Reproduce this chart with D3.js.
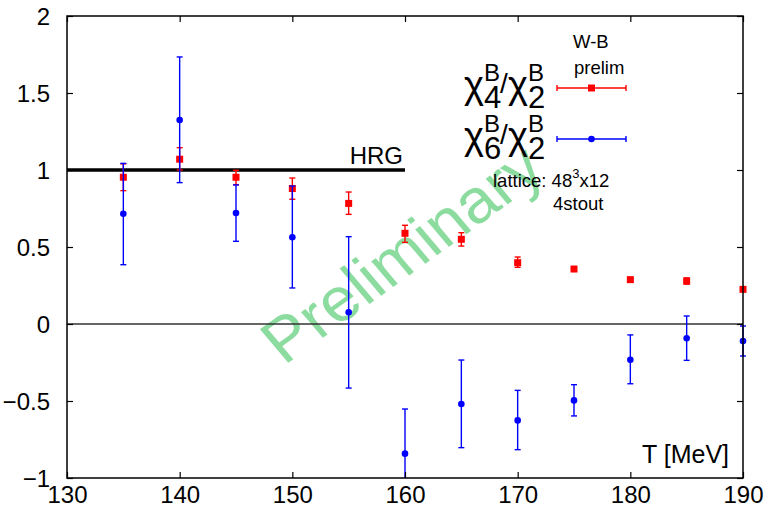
<!DOCTYPE html>
<html>
<head>
<meta charset="utf-8">
<script src="https://cdn.jsdelivr.net/npm/d3@7"></script>
<style>
body { margin: 0; background: #fff; }
svg { display: block; font-family: "Liberation Sans", Arial, sans-serif; }
</style>
</head>
<body>
<div id="plot"></div>
<script>
// temperatures [MeV]
let temps = [135, 140, 145, 150, 155, 160, 165, 170, 175, 180, 185, 190];

// chi4/chi2 (red squares)
let r42 = [0.953, 1.07, 0.953, 0.88, 0.783, 0.589, 0.55, 0.398, 0.357, 0.288, 0.279, 0.225];
let r42Hi = [1.04, 1.145, 0.998, 0.948, 0.857, 0.641, 0.593, 0.435, 0.369, 0.298, 0.299, 0.233];
let r42Lo = [0.866, 1.0, 0.905, 0.81, 0.712, 0.53, 0.506, 0.368, 0.345, 0.278, 0.259, 0.217];

// chi6/chi2 (blue circles)
let r62 = [0.716, 1.325, 0.721, 0.563, 0.076, -0.842, -0.519, -0.626, -0.496, -0.232, -0.093, -0.11];
let r62Hi = [1.043, 1.734, 0.903, 0.896, 0.567, -0.552, -0.234, -0.431, -0.394, -0.071, 0.052, -0.013];
let r62Lo = [0.385, 0.918, 0.537, 0.234, -0.416, -1.15, -0.803, -0.816, -0.597, -0.388, -0.236, -0.208];

let xTicks = [130, 140, 150, 160, 170, 180, 190];
let yTicks = [-1, -0.5, 0, 0.5, 1, 1.5, 2];
let hrg = 1, hrgEnd = 160;

let width = 769, height = 515;
let pLeft = 67, pRight = 743, pTop = 16, pBottom = 478;

let x = d3.scaleLinear().domain([130, 190]).range([pLeft, pRight]);
let y = d3.scaleLinear().domain([-1, 2]).range([pBottom, pTop]);

let svg = d3.select('#plot').append('svg').attr('width', width).attr('height', height);

// watermark
svg.append('text')
  .attr('transform', 'translate(284,366) scale(1.08,1) rotate(-38)')
  .style('font-size', '62px')
  .style('fill', 'rgb(140,220,160)')
  .text('Preliminary');

// zero line
svg.append('line')
  .attr('x1', x(130)).attr('x2', x(190))
  .attr('y1', y(0)).attr('y2', y(0))
  .style('stroke', '#333').style('stroke-width', 1.5);

// HRG line
svg.append('line')
  .attr('x1', x(130)).attr('x2', x(hrgEnd))
  .attr('y1', y(hrg)).attr('y2', y(hrg))
  .style('stroke', '#000').style('stroke-width', 3.5);

svg.append('text')
  .attr('x', x(hrgEnd) - 2).attr('y', y(hrg) - 6)
  .attr('text-anchor', 'end')
  .style('font-size', '24px')
  .text('HRG');

function clampY(v) { return y(Math.max(-1, Math.min(2, v))); }

function series(vals, hi, lo, color, shape) {
  let data = temps.map((t, i) => ({t: t, v: vals[i], hi: hi[i], lo: lo[i]}));
  let g = svg.append('g');
  let bars = g.selectAll('g.bar').data(data).enter().append('g')
    .style('stroke', color).style('stroke-width', 1.4).style('fill', 'none');
  bars.append('line')
    .attr('x1', d => x(d.t)).attr('x2', d => x(d.t))
    .attr('y1', d => clampY(d.hi)).attr('y2', d => clampY(d.lo));
  bars.append('line')
    .attr('x1', d => x(d.t) - 3).attr('x2', d => x(d.t) + 3)
    .attr('y1', d => y(d.hi)).attr('y2', d => y(d.hi));
  bars.filter(d => d.lo >= -1).append('line')
    .attr('x1', d => x(d.t) - 3).attr('x2', d => x(d.t) + 3)
    .attr('y1', d => y(d.lo)).attr('y2', d => y(d.lo));
  if (shape == 'square') {
    g.selectAll('rect').data(data).enter().append('rect')
      .attr('x', d => x(d.t) - 3.5).attr('y', d => y(d.v) - 3.5)
      .attr('width', 7).attr('height', 7)
      .style('fill', color);
  } else {
    g.selectAll('circle').data(data).enter().append('circle')
      .attr('cx', d => x(d.t)).attr('cy', d => y(d.v))
      .attr('r', 3.3)
      .style('fill', color);
  }
}

series(r42, r42Hi, r42Lo, '#ff0000', 'square');
series(r62, r62Hi, r62Lo, '#0000ff', 'circle');

// axes, ticks inward on all four sides
function styleAxis(g) {
  g.select('.domain').remove();
  g.selectAll('line').style('stroke', '#000').style('stroke-width', 1.2);
  g.selectAll('text').style('font-size', '24px').style('fill', '#000')
    .style('font-family', '"Liberation Sans", Arial, sans-serif');
}

svg.append('g').attr('transform', `translate(0,${pBottom})`)
  .call(d3.axisBottom(x).tickValues(xTicks).tickSizeInner(-6).tickSizeOuter(0).tickPadding(8).tickFormat(d3.format('d')))
  .call(styleAxis);
svg.append('g').attr('transform', `translate(0,${pTop})`)
  .call(d3.axisTop(x).tickValues(xTicks).tickSizeInner(-6).tickSizeOuter(0).tickFormat(''))
  .call(styleAxis);
svg.append('g').attr('transform', `translate(${pLeft},0)`)
  .call(d3.axisLeft(y).tickValues(yTicks).tickSizeInner(-6).tickSizeOuter(0).tickPadding(17).tickFormat(d => d3.format('')(d)))
  .call(styleAxis)
  .selectAll('text').attr('dy', '0.36em');
svg.append('g').attr('transform', `translate(${pRight},0)`)
  .call(d3.axisRight(y).tickValues(yTicks).tickSizeInner(-6).tickSizeOuter(0).tickFormat(''))
  .call(styleAxis);

// frame
svg.append('rect')
  .attr('x', pLeft).attr('y', pTop)
  .attr('width', pRight - pLeft).attr('height', pBottom - pTop)
  .style('fill', 'none').style('stroke', '#000').style('stroke-width', 1.5);

// x label inside plot
svg.append('text')
  .attr('x', 729).attr('y', 463)
  .attr('text-anchor', 'end')
  .style('font-size', '25px')
  .text('T [MeV]');

// legend
svg.append('text').attr('x', 573).attr('y', 48).style('font-size', '18.5px').text('W-B');
svg.append('text').attr('x', 574).attr('y', 74).style('font-size', '18.5px').text('prelim');

let legendRows = [
  {sub: '4', color: '#ff0000', shape: 'square'},
  {sub: '6', color: '#0000ff', shape: 'circle'}
];

legendRows.forEach((row, i) => {
  let ly = 88 + i * 51;
  let g = svg.append('g');
  let chi = (x0, sub) => {
    g.append('text').attr('x', x0).attr('y', ly + 10).style('font-size', '38px').text('χ');
    g.append('text').attr('x', x0 + 20).attr('y', ly - 7).style('font-size', '24px').text('B');
    g.append('text').attr('x', x0 + 20).attr('y', ly + 20).style('font-size', '31px').text(sub);
  };
  chi(464, row.sub);
  g.append('text').attr('x', 500).attr('y', ly + 5).style('font-size', '28px').text('/');
  chi(508, '2');

  let s = g.append('g').style('stroke', row.color).style('stroke-width', 1.4);
  s.append('line').attr('x1', 557).attr('x2', 626).attr('y1', ly).attr('y2', ly);
  s.append('line').attr('x1', 557).attr('x2', 557).attr('y1', ly - 3).attr('y2', ly + 3);
  s.append('line').attr('x1', 626).attr('x2', 626).attr('y1', ly - 3).attr('y2', ly + 3);
  if (row.shape == 'square') {
    g.append('rect').attr('x', 588).attr('y', ly - 3.5).attr('width', 7).attr('height', 7).style('fill', row.color);
  } else {
    g.append('circle').attr('cx', 591.5).attr('cy', ly).attr('r', 3.3).style('fill', row.color);
  }
});

let lat = svg.append('text').attr('x', 493).attr('y', 187).style('font-size', '18.5px');
lat.append('tspan').text('lattice: 48');
lat.append('tspan').attr('dy', -9).style('font-size', '13px').text('3');
lat.append('tspan').attr('dy', 9).text('x12');
svg.append('text').attr('x', 553).attr('y', 210).style('font-size', '18.5px').text('4stout');
</script>
</body>
</html>
